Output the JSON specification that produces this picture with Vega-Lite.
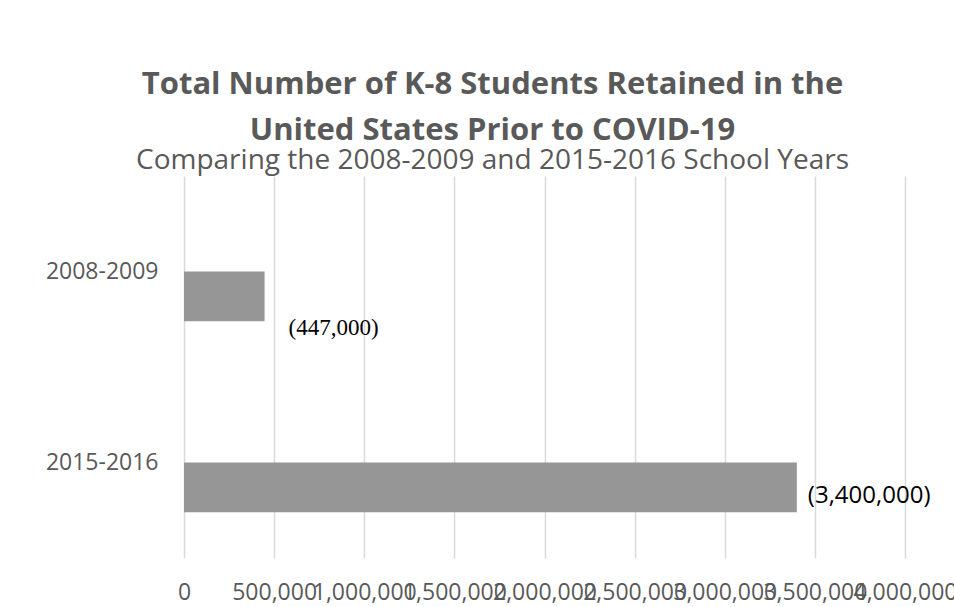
{
  "$schema": "https://vega.github.io/schema/vega-lite/v6.json",
  "width": 721,
  "height": 382,
  "autosize": {"type": "none"},
  "padding": {"left": 184, "top": 176, "right": 49, "bottom": 49},
  "background": "white",
  "title": {
    "text": ["Total Number of K-8 Students Retained in the", "United States Prior to COVID-19"],
    "subtitle": "Comparing the 2008-2009 and 2015-2016 School Years",
    "anchor": "middle",
    "dx": -52,
    "font": "Open Sans",
    "fontSize": 31,
    "fontWeight": "bold",
    "color": "#595959",
    "lineHeight": 46,
    "subtitleFont": "Open Sans",
    "subtitleFontSize": 28,
    "subtitleColor": "#595959",
    "subtitlePadding": 0,
    "offset": 0
  },
  "datasets": {
    "retained": [
      {"year": "2008-2009", "students": 447000, "label": "(447,000)", "series": "value"},
      {"year": "2015-2016", "students": 3400000, "label": "(3,400,000)", "series": "value"}
    ]
  },
  "data": {"name": "retained"},
  "encoding": {
    "y": {
      "field": "year",
      "type": "nominal",
      "sort": ["2008-2009", "2015-2016"],
      "scale": {"domain": ["2008-2009", "2015-2016"], "paddingInner": 0, "paddingOuter": 0},
      "axis": {
        "title": null,
        "domain": false,
        "ticks": false,
        "labelFont": "Open Sans",
        "labelFontSize": 23,
        "labelColor": "#595959",
        "labelPadding": 26
      }
    },
    "x": {
      "field": "students",
      "type": "quantitative",
      "scale": {"domain": [0, 4000000], "nice": false},
      "axis": {
        "title": null,
        "values": [0, 500000, 1000000, 1500000, 2000000, 2500000, 3000000, 3500000, 4000000],
        "format": ",d",
        "domain": false,
        "ticks": false,
        "grid": true,
        "gridColor": "#d9d9d9",
        "gridWidth": 1.5,
        "labelFont": "Open Sans",
        "labelFontSize": 23,
        "labelColor": "#595959",
        "labelPadding": 23,
        "labelOverlap": false,
        "labelFlush": false,
        "labelBound": false
      }
    }
  },
  "layer": [
    {
      "mark": {"type": "bar", "color": "#969696"},
      "encoding": {
        "yOffset": {
          "field": "series",
          "type": "nominal",
          "scale": {"domain": ["blank", "value"], "paddingInner": 0, "paddingOuter": 0.915}
        }
      }
    },
    {
      "transform": [{"filter": "datum.year === '2008-2009'"}],
      "mark": {
        "type": "text",
        "font": "Liberation Serif",
        "fontSize": 23,
        "color": "black",
        "align": "left",
        "baseline": "middle",
        "dx": 24,
        "dy": 56
      },
      "encoding": {"text": {"field": "label"}}
    },
    {
      "transform": [{"filter": "datum.year === '2015-2016'"}],
      "mark": {
        "type": "text",
        "font": "Open Sans",
        "fontSize": 24,
        "color": "black",
        "align": "left",
        "baseline": "middle",
        "dx": 11,
        "dy": 33
      },
      "encoding": {"text": {"field": "label"}}
    }
  ],
  "config": {"view": {"stroke": null}}
}
